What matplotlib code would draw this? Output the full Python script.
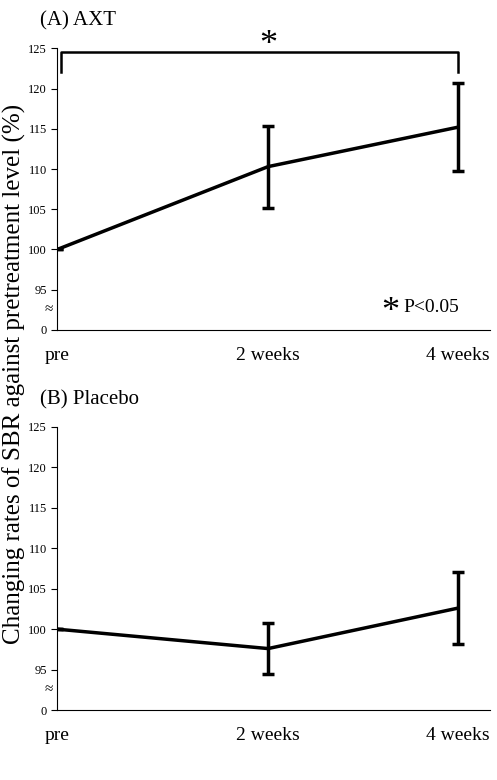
import matplotlib
matplotlib.use("Agg")
import matplotlib.pyplot as plt

plt.rcParams['font.family'] = ['Liberation Serif', 'DejaVu Serif']

timepoints = ["pre", "2 weeks", "4 weeks"]
axt_mean = [100, 110.3, 115.2]
axt_err = [0, 5.1, 5.5]
placebo_mean = [100, 97.6, 102.6]
placebo_err = [0, 3.1, 4.45]
ytick_vals = [0, 95, 100, 105, 110, 115, 120, 125]

def tr(v):
    return 0 if v == 0 else v - 90

fig = plt.figure(figsize=(4.97, 7.80), dpi=100)
xs = [0, 1, 1.9]
panels = [("(A) AXT", axt_mean, axt_err, 0.577, 0.938),
          ("(B) Placebo", placebo_mean, placebo_err, 0.0897, 0.4526)]
for title, m, e, b, t in panels:
    ax = fig.add_axes([0.115, b, 0.87, t - b])
    ax.errorbar(xs, [tr(v) for v in m], yerr=e, color='black', lw=2.5,
                elinewidth=2.5, capsize=4, capthick=2.5)
    ax.set_ylim(0, 35)
    ax.set_xlim(0, 2.05)
    ax.set_yticks([tr(v) for v in ytick_vals])
    ax.set_yticklabels([str(v) for v in ytick_vals], fontsize=9)
    ax.set_xticks(xs)
    ax.set_xticklabels(timepoints, fontsize=14)
    ax.tick_params(axis='x', length=0, pad=12)
    ax.tick_params(axis='y', length=4)
    ax.spines['top'].set_visible(False)
    ax.spines['right'].set_visible(False)
    ax.text(-0.02, 2.5, "≈", fontsize=11, ha='right', va='center',
            transform=ax.transData, clip_on=False)
    fig.text(0.08, t + 0.035, title, fontsize=15, va='center')
    if title.startswith("(A)"):
        ax.plot([0.02, 0.02, 1.9, 1.9], [32, 34.5, 34.5, 32], color='black',
                lw=1.8, clip_on=False)
        ax.text(1.0, 35.3, "*", fontsize=26, ha='center', va='center', clip_on=False)
        ax.text(1.58, 2.2, "*", fontsize=26, ha='center', va='center')
        ax.text(1.64, 2.8, "P<0.05", fontsize=14, ha='left', va='center')

fig.text(0.028, 0.52, "Changing rates of SBR against pretreatment level (%)",
         rotation=90, fontsize=18, ha='center', va='center')
fig.savefig("out.png", dpi=100)
